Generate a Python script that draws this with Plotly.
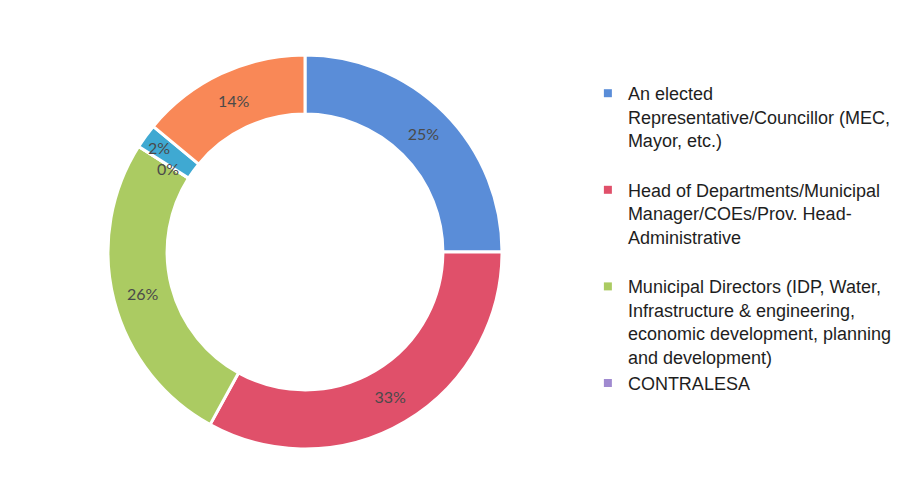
import math
import plotly.graph_objects as go

# Respondent categories and their shares (%)
categories = [
    "An elected Representative/Councillor (MEC, Mayor, etc.)",
    "Head of Departments/Municipal Manager/COEs/Prov. Head-Administrative",
    "Municipal Directors (IDP, Water, Infrastructure & engineering, economic development, planning and development)",
    "CONTRALESA",
    "Other",
    "Traditional leader",
]
shares = [25, 33, 26, 0, 2, 14]
colors = ["#5a8dd8", "#e0506a", "#abcb62", "#a08ad0", "#3fa9d2", "#f98857"]

# Legend labels (wrapped as in the chart's legend)
legend_labels = [
    "An elected<br>Representative/Councillor (MEC,<br>Mayor, etc.)<br> ",
    "Head of Departments/Municipal<br>Manager/COEs/Prov. Head-<br>Administrative<br> ",
    "Municipal Directors (IDP, Water,<br>Infrastructure & engineering,<br>economic development, planning<br>and development)",
    "CONTRALESA",
]

W, H = 920, 499
cx, cy, diam = 305, 252, 394          # ring centre (px from left/top) and outer diameter
hole = 0.70

x0 = (cx - diam / 2) / W
x1 = (cx + diam / 2) / W
y0 = (H - cy - diam / 2) / H
y1 = (H - cy + diam / 2) / H

label_pos = ["inside" if v >= 5 else "none" for v in shares]
label_font = dict(family="Lato, Open Sans, sans-serif", size=16, color="#4a4a4a")

fig = go.Figure()
fig.add_trace(go.Pie(
    labels=categories,
    values=shares,
    sort=False,
    direction="clockwise",
    rotation=0,
    hole=hole,
    marker=dict(colors=colors, line=dict(color="white", width=3)),
    texttemplate="%{value}%",
    textposition=label_pos,
    insidetextorientation="horizontal",
    textfont=label_font,
    domain=dict(x=[x0, x1], y=[y0, y1]),
    showlegend=False,
    hoverinfo="label+percent",
))

# Labels of the thin slices, placed by the slice's angle around the ring
total = sum(shares)
cum = 0
R = diam / 2
radial = {3: 0.90, 4: 1.0}
for i, v in enumerate(shares):
    start = cum
    cum += v
    if i in radial:
        ang = 2 * math.pi * ((start + cum) / 2) / total
        r = radial[i] * R
        px = cx + r * math.sin(ang)
        py = cy - r * math.cos(ang)
        fig.add_annotation(
            x=px / W, y=(H - py) / H, xref="paper", yref="paper",
            text=f"{v}%", showarrow=False, font=label_font,
        )

# Legend entries for the first four categories
for lab, col in zip(legend_labels, colors[:4]):
    fig.add_trace(go.Scatter(
        x=[None], y=[None], mode="markers", name=lab,
        marker=dict(symbol="square", size=8, color=col),
        showlegend=True, hoverinfo="skip",
    ))

fig.update_layout(
    width=W, height=H,
    margin=dict(l=0, r=0, t=0, b=0),
    paper_bgcolor="white",
    plot_bgcolor="white",
    xaxis=dict(visible=False),
    yaxis=dict(visible=False),
    legend=dict(
        x=0.639, y=1 - 75 / H, xanchor="left", yanchor="top",
        valign="top",
        font=dict(family="Liberation Sans, Arial, sans-serif", size=18, color="#1e1e1e"),
        bgcolor="rgba(0,0,0,0)",
        tracegroupgap=0,
    ),
)

fig.write_html("out.html")
